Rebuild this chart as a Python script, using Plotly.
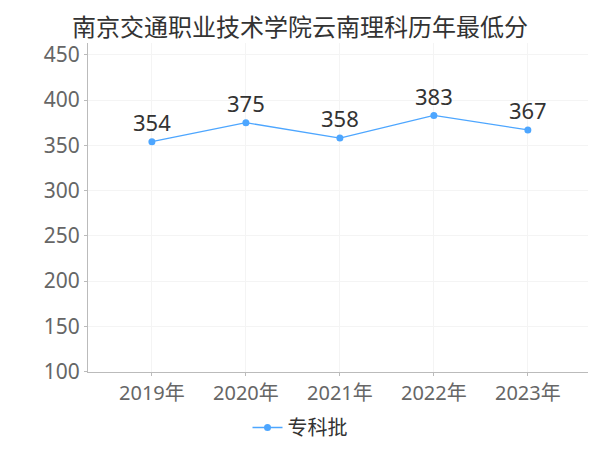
import plotly.graph_objects as go

years = ["2019年", "2020年", "2021年", "2022年", "2023年"]
scores = [354, 375, 358, 383, 367]
series_name = "专科批"
title = "南京交通职业技术学院云南理科历年最低分"
y_ticks = [100, 150, 200, 250, 300, 350, 400, 450]

# page body has an 8px margin, so the figure is sized to fit inside it
W, H = 584, 434
FONT = "Noto Sans, Noto Sans CJK SC"
fig = go.Figure()
fig.add_trace(go.Scatter(
    x=list(range(len(years))), y=scores, mode="lines+markers+text",
    name=series_name, text=[str(s) for s in scores], textposition="top center",
    textfont=dict(size=22, color="#333333", family=FONT),
    line=dict(color="#4da6ff", width=1.3),
    marker=dict(color="#4da6ff", size=7),
))
fig.update_layout(
    width=W, height=H,
    margin=dict(l=80, r=4, t=35, b=70, autoexpand=False),
    paper_bgcolor="white", plot_bgcolor="white",
    font=dict(family=FONT, color="#333333"),
    title=dict(text=title, x=0.5, xanchor="center", y=0.956, yanchor="middle",
               font=dict(size=24, color="#333333", family="Noto Sans CJK SC")),
    showlegend=True,
    legend=dict(orientation="h", x=0.424, xanchor="center", y=-0.228, yanchor="bottom",
                font=dict(size=20, color="#333333", family="Noto Sans CJK SC"),
                itemwidth=30, borderwidth=0, tracegroupgap=0),
)
fig.update_xaxes(
    range=[-0.68, 4.64], tickmode="array", tickvals=list(range(len(years))), ticktext=years,
    showgrid=True, gridcolor="#f4f4f4", showline=True, linecolor="#bbbbbb",
    ticks="outside", ticklen=3, tickcolor="#bbbbbb", zeroline=False, automargin=False,
    tickfont=dict(size=20, color="#666666", family=FONT),
)
fig.update_yaxes(
    range=[99.5, 463], tickmode="array", tickvals=y_ticks,
    showgrid=True, gridcolor="#f4f4f4", showline=True, linecolor="#bbbbbb",
    ticks="outside", ticklen=3, tickcolor="#bbbbbb", zeroline=False, automargin=False,
    tickfont=dict(size=21, color="#666666", family=FONT),
)
fig.write_html("out.html")
